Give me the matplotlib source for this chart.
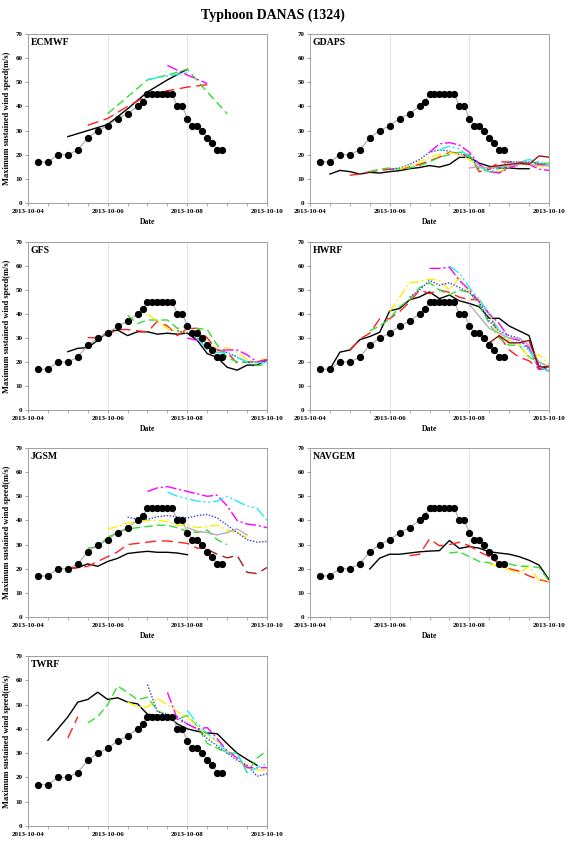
import matplotlib
matplotlib.use("Agg")
import matplotlib.pyplot as plt
import numpy as np

plt.rcParams['font.family'] = ['Liberation Serif', 'DejaVu Serif']

TITLE = "Typhoon DANAS (1324)"
date_labels = ["2013-10-04", "2013-10-06", "2013-10-08", "2013-10-10"]

# Best-track observation (hours after 2013-10-04 00UTC)
obs_hours = [6, 12, 18, 24, 30, 36, 42, 48, 54, 60, 66, 69, 72, 75, 78, 81, 84, 87,
             90, 93, 96, 99, 102, 105, 108, 111, 114, 117]
obs_wind = [17, 17, 20, 20, 22, 27, 30, 32, 35, 37, 40, 42, 45, 45, 45, 45, 45, 45,
            40, 40, 35, 32, 32, 30, 27, 25, 22, 22]

# Forecast series: (style, start hour, step hour, values)
ecmwf = [
    ('k', 24, 12, [27.5, 30, 32.5, 39, 46, 51, 55.4]),
    ('r', 36, 12, [32.2, 35, 40, 44.5, 46.5, 48, 49]),
    ('g', 48, 12, [37, 44, 51, 53, 55.4, 46, 37]),
    ('c', 72, 12, [51.2, 52.6, 54]),
    ('m', 84, 12, [57, 53, 49.5]),
]
gdaps = [
    ('k', 12, 6, [12, 13.5, 13, 12, 12.7, 12.4, 13, 13.4, 14.2, 14.7, 15.5, 14.9, 16, 18.9,
                  18.9, 16.5, 15.2, 14.5, 14.5, 14.2, 14.2]),
    ('r', 24, 6, [11.5, 12, 13, 13.5, 14, 14, 15, 16, 17.5, 19, 21, 20.5, 19.5, 13, 14, 17,
                  17, 17, 16.5, 16, 16]),
    ('g', 36, 6, [13, 14, 14.5, 14, 14.5, 15.5, 17, 19, 20, 21, 20, 14, 13, 12.5, 15, 16,
                  17, 16.5, 16.5]),
    ('b', 48, 6, [14, 14.5, 16, 18, 21, 22, 21.5, 20, 19, 15, 14, 15, 17, 17, 17, 16.5, 15.5]),
    ('y', 54, 6, [14, 15.5, 17, 19, 20, 21, 20, 18, 15, 13, 13, 15, 16, 16, 15, 15]),
    ('m', 72, 6, [21, 24.5, 25, 24, 21, 16, 13, 12.5, 14.5, 16, 16, 14, 13.5]),
    ('c', 78, 6, [22, 23.5, 22.5, 19, 15, 13, 14, 16, 17, 18, 17, 16]),
    ('gr', 96, 6, [14.5, 15, 14.5, 15, 15.5, 16, 16, 15.5, 15.5]),
    ('dr', 108, 6, [15, 15.5, 16, 16.5, 16, 19.5, 19]),
]
gfs = [
    ('k', 24, 6, [24.3, 25.7, 26, 29, 32.6, 33.3, 31, 32.6, 32.6, 31.6, 32, 31.6, 32, 29,
                  23.5, 21.9, 17.8, 16.6, 18.7, 18.7, 20.8]),
    ('r', 36, 6, [30.2, 30, 31.5, 33.5, 33.5, 33, 32.5, 37, 35, 31, 34, 34, 30, 25, 24,
                  19.5, 20, 20, 21]),
    ('g', 60, 6, [39.5, 36, 37.5, 37.5, 37.5, 34, 35, 34, 33.5, 27, 22, 20, 20, 18.5, 19]),
    ('y', 72, 6, [40, 37, 34, 33, 32, 31, 28, 25, 26, 24, 21, 20, 22]),
    ('b', 90, 6, [33, 32, 30, 26, 24, 24, 22, 20, 20, 21]),
    ('m', 96, 6, [30, 29, 27, 25, 25, 25, 23, 20, 21]),
    ('c', 102, 6, [30, 25, 24, 24, 22, 20, 19.5, 20]),
]
hwrf = [
    ('k', 12, 6, [17, 24.1, 25, 29.3, 30.6, 32.4, 41.3, 42.3, 45.9, 47.1, 49.2, 46.4, 47.9,
                  45.5, 44.4, 43, 38.2, 38.2, 35, 33, 31, 17, 18.3]),
    ('r', 24, 6, [24.8, 29.5, 32, 38, 38, 41, 45, 50, 48.5, 50, 49, 47, 46, 46, 40, 31, 25,
                  22, 20.5, 17, 17]),
    ('g', 36, 6, [33, 35, 38, 43, 46, 51, 53, 50, 48, 50, 49, 44, 36, 30, 27, 27, 22, 20, 18]),
    ('y', 48, 6, [41, 47, 53, 53.5, 54.5, 54, 50, 55, 49, 46, 40, 31, 29, 27, 22, 23, 19]),
    ('b', 60, 6, [47, 50, 54, 52, 53, 51, 49, 45, 37, 33, 31, 30, 25, 19, 16]),
    ('m', 72, 6, [59, 59, 59.5, 54, 50, 45, 40, 36, 30, 29, 26, 17, 17]),
    ('c', 84, 6, [60, 57, 51, 46, 40, 33, 28, 28, 25, 18, 16]),
    ('gr', 96, 6, [44, 39, 34, 32, 30, 30, 27, 20, 18]),
    ('dr', 108, 6, [28, 31, 28, 28, 29, 18, 18]),
]
jgsm = [
    ('k', 24, 6, [20, 20.5, 22, 21, 23, 24.3, 26.3, 26.8, 27.2, 26.8, 26.8, 26.5, 25.8]),
    ('r', 24, 6, [20, 20.5, 21, 23, 25, 27, 30, 30.5, 31, 31.5, 31.5, 31, 30.5, 28.5, 28.5]),
    ('g', 36, 6, [28.6, 29, 33, 35, 36.5, 37, 37.5, 38, 38, 37, 35.5, 35, 36, 32, 30]),
    ('y', 48, 6, [36.5, 37.5, 39, 39.5, 40, 40, 39.5, 38, 38, 37, 37.5, 38, 36, 35, 33]),
    ('b', 60, 6, [41.4, 40.5, 40.5, 41.5, 42, 41.5, 41, 42, 42.5, 41, 38, 35, 32, 31, 31.3]),
    ('m', 72, 6, [52, 53.5, 54, 53, 52, 51, 50, 50.5, 46, 40, 38.5, 38, 37]),
    ('c', 84, 6, [51.8, 50, 49, 48, 47.5, 48, 50, 48, 46, 45, 40]),
    ('gr', 96, 6, [37, 35.5, 35, 34, 35, 36.5, 34]),
    ('drd', 108, 6, [28, 26, 24.5, 25.5, 18.5, 18, 20.5]),
]
navgem = [
    ('k', 36, 6, [19.9, 24.4, 26, 26, 26.5, 27, 27.3, 27.5, 31.7, 28.4, 29.2, 28.5, 27,
                  26.5, 26, 25, 23.5, 21.5, 15.5]),
    ('r', 60, 6, [25.4, 26, 32.3, 29.5, 30, 31, 29.5, 27, 25, 22, 20, 19, 17, 15.5, 14.5]),
    ('g', 84, 6, [26.5, 27, 25, 23, 22.5, 21, 22, 21, 21, 20.5, 15]),
    ('y', 108, 6, [22, 21, 19.5, 18, 21, 15, 14.5]),
]
twrf = [
    ('k', 12, 6, [35.3, 40, 44.9, 51, 52.1, 55.1, 52.1, 52.8, 51, 50.3, 46, 45.5, 45.5, 42,
                  40, 39, 38.3, 38, 33.9, 30, 27.4, 25]),
    ('r', 24, 6, [36.2, 45]),
    ('g', 36, 6, [42.5, 45, 50, 57.6, 55, 52, 53, 47.6, 45, 44, 45.5, 41, 34, 32, 30, 30,
                  22, 28, 31]),
    ('y', 60, 6, [51, 49, 49, 52.5, 50, 47, 45, 41, 37, 35, 31, 28, 25, 23, 23]),
    ('b', 72, 6, [58.2, 47, 46, 45, 42, 40, 36, 33, 30, 27, 25, 20.5, 21.5]),
    ('m', 84, 6, [55, 44, 42, 40, 40.5, 36, 31, 28, 24, 24, 24]),
    ('c', 96, 6, [47.6, 42, 38, 35, 30, 30, 22, 24, 25.5]),
]

models = [("ECMWF", ecmwf), ("GDAPS", gdaps), ("GFS", gfs), ("HWRF", hwrf),
          ("JGSM", jgsm), ("NAVGEM", navgem), ("TWRF", twrf)]

styles = {
    'k': dict(color='black', lw=1.0, ls='-'),
    'r': dict(color='#ff2020', lw=1.0, ls=(0, (8, 4))),
    'g': dict(color='#33dd33', lw=1.0, ls=(0, (6, 3))),
    'b': dict(color='#3344cc', lw=1.0, ls=(0, (1, 1.2))),
    'y': dict(color='#ffee00', lw=1.0, ls=(0, (7, 2, 1.5, 2))),
    'm': dict(color='#ff00ff', lw=1.0, ls=(0, (8, 2, 1.5, 2))),
    'c': dict(color='#22eeee', lw=1.0, ls=(0, (8, 2, 1.5, 2, 1.5, 2))),
    'gr': dict(color='#b0b0b0', lw=1.0, ls='-'),
    'dr': dict(color='#a01010', lw=1.0, ls='-'),
    'drd': dict(color='#a02020', lw=1.0, ls=(0, (8, 4))),
}

fig = plt.figure(figsize=(5.68, 8.43), dpi=100)
fig.text(0.481, 0.982, TITLE, ha='center', va='center', fontsize=10, fontweight='bold')

W = 568.0
H = 843.0
cols = [(28, 267), (310, 549)]
rows = [(34, 203), (242, 410), (448, 617), (656, 826)]

for i, (name, series) in enumerate(models):
    r, c = divmod(i, 2)
    x0, x1 = cols[c]
    y0, y1 = rows[r]
    ax = fig.add_axes([x0 / W, 1 - y1 / H, (x1 - x0) / W, (y1 - y0) / H])
    ax.plot(np.array(obs_hours) / 24.0, obs_wind, color='#aaaaaa', lw=0.8,
            marker='o', ms=4.2, mfc='black', mec='black', zorder=5)
    for key, start, step, vals in series:
        hrs = start + step * np.arange(len(vals))
        ax.plot(hrs / 24.0, vals, **styles[key], zorder=3)
    ax.set_xlim(0, 6)
    ax.set_ylim(0, 70)
    ax.set_xticks([0, 2, 4, 6])
    ax.set_xticklabels(date_labels)
    ax.set_xticks(np.arange(0, 6.01, 0.5), minor=True)
    ax.set_yticks(np.arange(0, 71, 10))
    ax.grid(axis='x', which='major', color='#e4e4e4', lw=0.7)
    for s in ax.spines.values():
        s.set_color('#a0a0a0')
        s.set_linewidth(0.7)
    ax.tick_params(axis='both', which='major', labelsize=5, length=2.5, width=0.6,
                   color='#909090', pad=1.5)
    ax.tick_params(axis='x', which='minor', length=2, width=0.5, color='#909090')
    for lab in ax.get_xticklabels() + ax.get_yticklabels():
        lab.set_fontweight('bold')
    if r < 3:
        ax.set_xlabel("Date", fontsize=5.5, fontweight='bold', labelpad=3)
    if c == 0:
        ax.set_ylabel("Maximum sustained wind speed(m/s)", fontsize=6, fontweight='bold',
                      labelpad=3)
    ax.text(0.012, 0.975, name, transform=ax.transAxes, ha='left', va='top',
            fontsize=7, fontweight='bold')

fig.savefig("out.png", dpi=100)
